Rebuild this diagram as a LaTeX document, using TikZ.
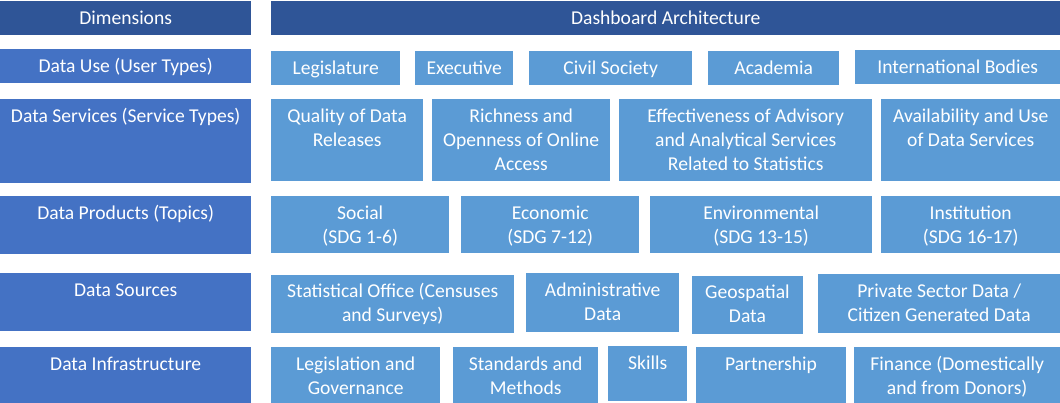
\documentclass[tikz,border=0pt]{standalone}
\usepackage{fontspec}
\setmainfont{Carlito}
\definecolor{headblue}{HTML}{2F5597}
\definecolor{dimblue}{HTML}{4472C4}
\definecolor{cellblue}{HTML}{5B9BD5}
% text set at the top of a box of given width and height
\newcommand{\toptext}[3]{\parbox[t][#2][t]{#1}{\centering\rule{0pt}{23pt}#3}}

\begin{document}
\begin{tikzpicture}[x=1pt, y=-1pt,
    box/.style={anchor=north west, inner sep=0pt, text=white, font=\fontsize{19.6}{24}\selectfont},
    head/.style={box, fill=headblue},
    dim/.style={box, fill=dimblue},
    cell/.style={box, fill=cellblue}]
    \useasboundingbox (0,0) rectangle (1060,403);

    % Header row
    \node[head] (dims) at (0,1) {\toptext{251pt}{34pt}{Dimensions}};
    \node[head] (arch) at (271,1) {\toptext{789pt}{34pt}{Dashboard Architecture}};

    % Dimensions column
    \node[dim] (datause) at (0,49) {\toptext{251pt}{34pt}{Data Use (User Types)}};
    \node[dim] (dataservices) at (0,99) {\toptext{251pt}{84pt}{Data Services (Service Types)}};
    \node[dim] (dataproducts) at (0,196) {\toptext{251pt}{58pt}{Data Products (Topics)}};
    \node[dim] (datasources) at (0,273) {\toptext{251pt}{58pt}{Data Sources}};
    \node[dim] (datainfra) at (0,347) {\toptext{251pt}{56pt}{Data Infrastructure}};

    % Data use
    \node[cell] (legislature) at (271,51) {\toptext{129pt}{34pt}{Legislature}};
    \node[cell] (executive) at (415,51) {\toptext{98pt}{34pt}{Executive}};
    \node[cell] (civil) at (529,51) {\toptext{163pt}{34pt}{Civil Society}};
    \node[cell] (academia) at (708,51) {\toptext{131pt}{34pt}{Academia}};
    \node[cell] (international) at (855,50) {\toptext{205pt}{34pt}{International Bodies}};

    % Data services
    \node[cell] (quality) at (271,99) {\toptext{152pt}{82pt}{Quality of Data\\Releases}};
    \node[cell] (richness) at (432,99) {\toptext{178pt}{82pt}{Richness and\\Openness of Online\\Access}};
    \node[cell] (effectiveness) at (619,99) {\toptext{253pt}{82pt}{Effectiveness of Advisory\\and Analytical Services\\Related to Statistics}};
    \node[cell] (availability) at (881,99) {\toptext{179pt}{82pt}{Availability and Use\\of Data Services}};

    % Data products
    \node[cell] (social) at (271,196) {\toptext{178pt}{57pt}{Social\\(SDG 1-6)}};
    \node[cell] (economic) at (461,196) {\toptext{178pt}{57pt}{Economic\\(SDG 7-12)}};
    \node[cell] (environmental) at (650,196) {\toptext{222pt}{57pt}{Environmental\\(SDG 13-15)}};
    \node[cell] (institution) at (881,196) {\toptext{179pt}{57pt}{Institution\\(SDG 16-17)}};

    % Data sources
    \node[cell] (statistical) at (271,274.5) {\toptext{243pt}{58pt}{Statistical Office (Censuses\\and Surveys)}};
    \node[cell] (administrative) at (526,273) {\toptext{153pt}{58.5pt}{Administrative\\Data}};
    \node[cell] (geospatial) at (691.5,275.5) {\toptext{111.5pt}{58pt}{Geospatial\\Data}};
    \node[cell] (private) at (818,274) {\toptext{242pt}{59pt}{Private Sector Data /\\Citizen Generated Data}};

    % Data infrastructure
    \node[cell] (legislation) at (271,347) {\toptext{169pt}{56pt}{Legislation and\\Governance}};
    \node[cell] (standards) at (453,347) {\toptext{145pt}{56pt}{Standards and\\Methods}};
    \node[cell] (skills) at (608,346) {\toptext{79pt}{55pt}{Skills}};
    \node[cell] (partnership) at (695.5,347) {\toptext{150.5pt}{56pt}{Partnership}};
    \node[cell] (finance) at (854,347) {\toptext{206pt}{56pt}{Finance (Domestically\\and from Donors)}};
\end{tikzpicture}
\end{document}
